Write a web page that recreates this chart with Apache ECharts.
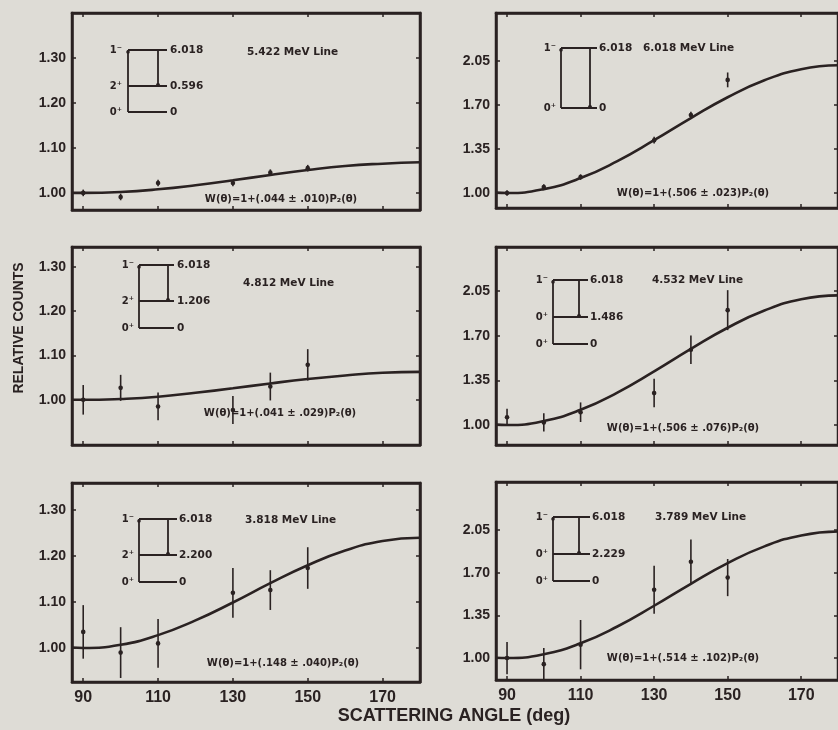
<!DOCTYPE html>
<html>
<head>
<meta charset="utf-8">
<script src="https://cdn.jsdelivr.net/npm/echarts@6/dist/echarts.min.js"></script>
<style>
html,body{margin:0;padding:0;background:#dedcd6;}
#c{width:838px;height:730px;}
</style>
</head>
<body>
<div id="c"></div>
<script>
// ---------- data ----------
const xTicks = [90, 110, 130, 150, 170];
const yTicksSmall = [1.00, 1.10, 1.20, 1.30];
const yTicksLarge = [1.00, 1.35, 1.70, 2.05];

const curveAngles = [87, 90, 100, 110, 120, 130, 140, 150, 160, 170, 180];
const curve5422 = [1.000, 1.000, 1.002, 1.008, 1.017, 1.028, 1.040, 1.051, 1.060, 1.065, 1.068];
const curve6018 = [1.003, 1.000, 1.031, 1.119, 1.254, 1.420, 1.596, 1.762, 1.897, 1.985, 2.016];
const curve4812 = [1.000, 1.000, 1.002, 1.007, 1.016, 1.026, 1.037, 1.047, 1.055, 1.061, 1.063];
const curve4532 = [1.003, 1.000, 1.031, 1.119, 1.254, 1.420, 1.596, 1.762, 1.897, 1.985, 2.016];
const curve3818 = [1.001, 1.000, 1.007, 1.028, 1.060, 1.099, 1.141, 1.180, 1.212, 1.233, 1.240];
const curve3789 = [1.003, 1.000, 1.031, 1.121, 1.259, 1.429, 1.609, 1.778, 1.916, 2.006, 2.038];

const pointAngles = [90, 100, 110, 130, 140, 150];
const pts5422 = [1.000, 0.991, 1.022, 1.022, 1.045, 1.055];
const err5422 = [0.004, 0.004, 0.004, 0.004, 0.004, 0.004];
const pts6018 = [1.000, 1.048, 1.127, 1.420, 1.620, 1.900];
const err6018 = [0.010, 0.010, 0.010, 0.015, 0.015, 0.047];
const pts4812 = [1.000, 1.027, 0.985, 0.977, 1.030, 1.079];
const err4812 = [0.030, 0.026, 0.028, 0.028, 0.028, 0.032];
const pts4532 = [1.060, 1.020, 1.100, 1.250, 1.590, 1.900];
const err4532 = [0.055, 0.060, 0.065, 0.100, 0.100, 0.145];
const pts3818 = [1.035, 0.990, 1.010, 1.120, 1.126, 1.174];
const err3818 = [0.055, 0.052, 0.050, 0.051, 0.040, 0.042];
const pts3789 = [1.000, 0.950, 1.110, 1.560, 1.790, 1.660];
const err3789 = [0.120, 0.120, 0.190, 0.185, 0.170, 0.140];

const lineNames = ['5.422 MeV Line', '6.018 MeV Line', '4.812 MeV Line', '4.532 MeV Line', '3.818 MeV Line', '3.789 MeV Line'];
const formulas = [
  'W(θ)=1+(.044 ± .010)P₂(θ)',
  'W(θ)=1+(.506 ± .023)P₂(θ)',
  'W(θ)=1+(.041 ± .029)P₂(θ)',
  'W(θ)=1+(.506 ± .076)P₂(θ)',
  'W(θ)=1+(.148 ± .040)P₂(θ)',
  'W(θ)=1+(.514 ± .102)P₂(θ)'
];
const levelEnergies = [
  ['6.018', '0.596', '0'],
  ['6.018', '0'],
  ['6.018', '1.206', '0'],
  ['6.018', '1.486', '0'],
  ['6.018', '2.200', '0'],
  ['6.018', '2.229', '0']
];
const levelSpins = [
  ['1⁻', '2⁺', '0⁺'],
  ['1⁻', '0⁺'],
  ['1⁻', '2⁺', '0⁺'],
  ['1⁻', '0⁺', '0⁺'],
  ['1⁻', '2⁺', '0⁺'],
  ['1⁻', '0⁺', '0⁺']
];

// ---------- layout ----------
const ink = '#2a2222';
const F = '"Liberation Sans", "DejaVu Sans", sans-serif';
const FD = '"DejaVu Sans", "Liberation Sans", sans-serif';
const panels = [
  {left: 72,  top: 13,  h: 197, ymin: 0.962, ymax: 1.400, ticks: yTicksSmall, curve: curve5422, pts: pts5422, err: err5422, bottom: false,
   inset: {sx: 122, lx1: 128, lx2: 167, tx: 158, ys: [50, 86, 112], ex: 170, nx: 247, ny: 52}, fx: 281, fy: 199},
  {left: 496, top: 13,  h: 195, ymin: 0.881, ymax: 2.432, ticks: yTicksLarge, curve: curve6018, pts: pts6018, err: err6018, bottom: false,
   inset: {sx: 556, lx1: 561, lx2: 597, tx: 590, ys: [48, 108], ex: 599, nx: 643, ny: 48}, fx: 693, fy: 193},
  {left: 72,  top: 247, h: 198, ymin: 0.898, ymax: 1.345, ticks: yTicksSmall, curve: curve4812, pts: pts4812, err: err4812, bottom: false,
   inset: {sx: 134, lx1: 139, lx2: 174, tx: 168, ys: [265, 301, 328], ex: 177, nx: 243, ny: 283}, fx: 280, fy: 413},
  {left: 496, top: 247, h: 198, ymin: 0.843, ymax: 2.395, ticks: yTicksLarge, curve: curve4532, pts: pts4532, err: err4532, bottom: false,
   inset: {sx: 548, lx1: 553, lx2: 588, tx: 579, ys: [280, 317, 344], ex: 590, nx: 652, ny: 280}, fx: 683, fy: 428},
  {left: 72,  top: 483, h: 199, ymin: 0.926, ymax: 1.359, ticks: yTicksSmall, curve: curve3818, pts: pts3818, err: err3818, bottom: true,
   inset: {sx: 134, lx1: 139, lx2: 177, tx: 168, ys: [519, 555, 582], ex: 179, nx: 245, ny: 520}, fx: 283, fy: 663},
  {left: 496, top: 482, h: 198, ymin: 0.820, ymax: 2.444, ticks: yTicksLarge, curve: curve3789, pts: pts3789, err: err3789, bottom: true,
   inset: {sx: 548, lx1: 553, lx2: 590, tx: 579, ys: [517, 554, 581], ex: 592, nx: 655, ny: 517}, fx: 683, fy: 658}
];
const gridW = 348;

const grids = [], xAxes = [], yAxes = [], series = [], graphics = [];

panels.forEach((p, i) => {
  grids.push({left: p.left, top: p.top, width: gridW, height: p.h, show: true, borderColor: ink, borderWidth: 2.5, backgroundColor: 'transparent'});
  const tickStyle = {color: ink, width: 1.5};
  ['bottom', 'top'].forEach((pos, k) => {
    xAxes.push({
      gridIndex: i, type: 'value', min: 87, max: 180, position: pos,
      axisLine: {show: true, onZero: false, lineStyle: {color: ink, width: 2.5}},
      axisTick: {show: true, inside: true, length: 4, customValues: xTicks, lineStyle: tickStyle},
      axisLabel: {show: p.bottom && k === 0, customValues: xTicks, margin: 8, color: ink,
                  fontFamily: F, fontWeight: 'bold', fontSize: 16},
      splitLine: {show: false}
    });
  });
  ['left', 'right'].forEach((pos, k) => {
    yAxes.push({
      gridIndex: i, type: 'value', min: p.ymin, max: p.ymax, position: pos,
      axisLine: {show: true, onZero: false, lineStyle: {color: ink, width: 2.5}},
      axisTick: {show: true, inside: true, length: 4, customValues: p.ticks, lineStyle: tickStyle},
      axisLabel: {show: k === 0, customValues: p.ticks, margin: 6, color: ink,
                  fontFamily: F, fontWeight: 'bold', fontSize: 14,
                  formatter: v => Number(v).toFixed(2)},
      splitLine: {show: false}
    });
  });
  series.push({
    type: 'line', xAxisIndex: 2 * i, yAxisIndex: 2 * i, smooth: true, symbol: 'none', clip: true,
    lineStyle: {color: ink, width: 2.6},
    data: curveAngles.map((a, j) => [a, p.curve[j]])
  });
  series.push({
    type: 'custom', xAxisIndex: 2 * i, yAxisIndex: 2 * i,
    data: pointAngles.map((a, j) => [a, p.pts[j], p.err[j]]),
    renderItem: function (params, api) {
      const x = api.value(0), y = api.value(1), e = api.value(2);
      const c = api.coord([x, y]);
      const t = api.coord([x, y + e]);
      const b = api.coord([x, y - e]);
      return {type: 'group', children: [
        {type: 'line', shape: {x1: c[0], y1: t[1] - 1.5, x2: c[0], y2: b[1] + 1.5}, style: {stroke: ink, lineWidth: 1.6}},
        {type: 'circle', shape: {cx: c[0], cy: c[1], r: 2.3}, style: {fill: ink}}
      ]};
    }
  });

  // level-scheme inset
  const s = p.inset;
  const lw = 1.8;
  const topY = s.ys[0], botY = s.ys[s.ys.length - 1];
  const midY = s.ys.length === 3 ? s.ys[1] : botY;
  graphics.push({type: 'line', shape: {x1: s.lx1, y1: topY, x2: s.lx1, y2: botY}, style: {stroke: ink, lineWidth: lw}});
  graphics.push({type: 'line', shape: {x1: s.tx, y1: topY, x2: s.tx, y2: midY}, style: {stroke: ink, lineWidth: lw}});
  graphics.push({type: 'circle', shape: {cx: s.tx, cy: midY - 1, r: 2}, style: {fill: ink}});
  graphics.push({type: 'circle', shape: {cx: s.lx1, cy: topY + 2, r: 1.8}, style: {fill: ink}});
  s.ys.forEach((y, j) => {
    graphics.push({type: 'line', shape: {x1: s.lx1, y1: y, x2: s.lx2, y2: y}, style: {stroke: ink, lineWidth: lw}});
    graphics.push({type: 'text', style: {text: levelSpins[i][j], x: s.sx, y: y, textAlign: 'right', textVerticalAlign: 'middle',
      font: 'bold 10px ' + FD, fill: ink}});
    graphics.push({type: 'text', style: {text: levelEnergies[i][j], x: s.ex, y: y, textAlign: 'left', textVerticalAlign: 'middle',
      font: 'bold 10.5px ' + FD, fill: ink}});
  });
  graphics.push({type: 'text', style: {text: lineNames[i], x: s.nx, y: s.ny, textAlign: 'left', textVerticalAlign: 'middle',
    font: 'bold 10.5px ' + FD, fill: ink}});
  graphics.push({type: 'text', style: {text: formulas[i], x: p.fx, y: p.fy, textAlign: 'center', textVerticalAlign: 'middle',
    font: 'bold 10px ' + FD, fill: ink}});
});

graphics.push({type: 'text', rotation: Math.PI / 2, x: 19, y: 328,
  style: {text: 'RELATIVE COUNTS', x: 0, y: 0, textAlign: 'center', textVerticalAlign: 'middle', font: 'bold 14px ' + F, fill: ink}});
graphics.push({type: 'text', style: {text: 'SCATTERING ANGLE (deg)', x: 454, y: 716, textAlign: 'center', textVerticalAlign: 'middle',
  font: 'bold 18px ' + F, fill: ink}});

const chart = echarts.init(document.getElementById('c'), null, {renderer: 'canvas'});
chart.setOption({
  backgroundColor: '#dedcd6',
  animation: false,
  grid: grids,
  xAxis: xAxes,
  yAxis: yAxes,
  series: series,
  graphic: graphics
});
</script>
</body>
</html>
